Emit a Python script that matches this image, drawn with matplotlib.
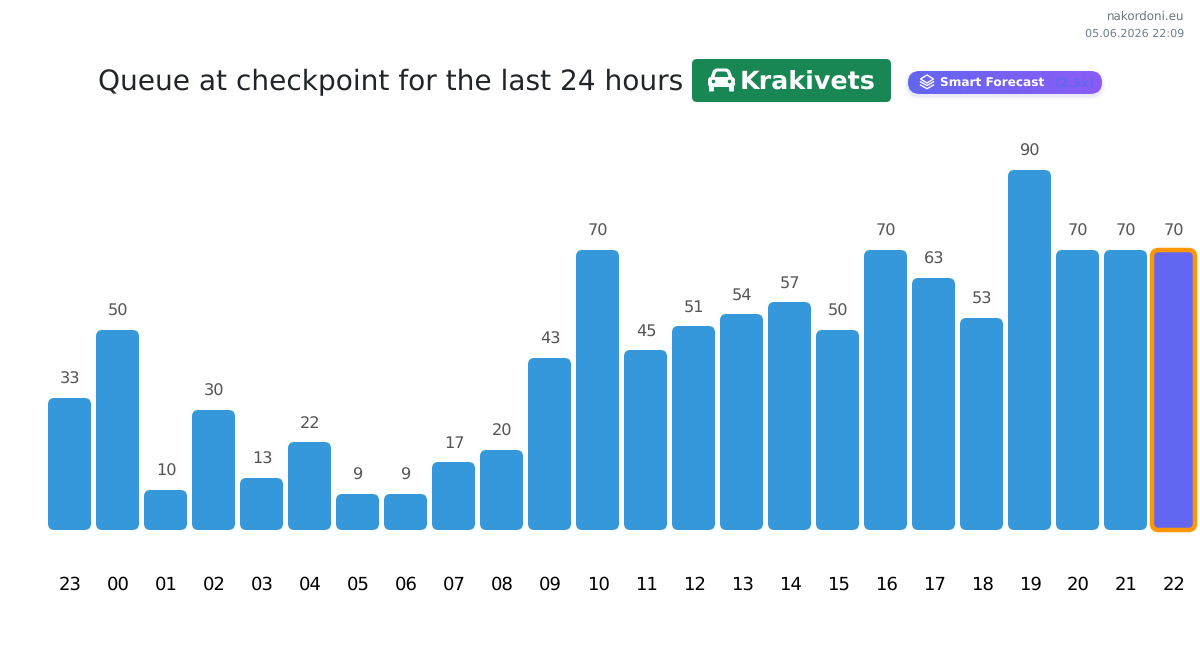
"""Hourly checkpoint queue: rounded bars with a forecast bar and a header strip."""
import numpy as np
import matplotlib
matplotlib.use("Agg")
import matplotlib.pyplot as plt
from matplotlib.patches import FancyBboxPatch, Polygon, Circle
from matplotlib.lines import Line2D

plt.rcParams["text.hinting"] = "no_hinting"

hours = ["23", "00", "01", "02", "03", "04", "05", "06", "07", "08", "09", "10",
         "11", "12", "13", "14", "15", "16", "17", "18", "19", "20", "21", "22"]
queue = [33, 50, 10, 30, 13, 22, 9, 9, 17, 20, 43, 70,
         45, 51, 54, 57, 50, 70, 63, 53, 90, 70, 70, 70]
forecast_hour = "22"

BLUE = "#3498db"; PURPLE = "#6366f1"; ORANGE = "#ff9800"; GREEN = "#198754"
W, H = 1200, 651
PX = 72 / 100  # points per pixel at dpi 100

fig = plt.figure(figsize=(W / 100, H / 100), dpi=100, facecolor="white")

# bars: one x unit is 48 px, one y unit is 4 px, baseline at y=530 px
ax = fig.add_axes([0, 0, 1, 1])
ax.set_xlim(-69.5 / 48, (W - 69.5) / 48)
ax.set_ylim((530 - H) / 4, 530 / 4)
ax.axis("off")

bar_w = 43 / 48
for i, (hour, val) in enumerate(zip(hours, queue)):
    is_fc = hour == forecast_hour and i == len(hours) - 1
    box = FancyBboxPatch((i - bar_w / 2, 0), bar_w, val,
                         boxstyle="round,pad=0,rounding_size=0.135", mutation_aspect=12,
                         fc=PURPLE if is_fc else BLUE,
                         ec=ORANGE if is_fc else "none", lw=4.5 * PX if is_fc else 0,
                         zorder=3 if is_fc else 2)
    ax.add_patch(box)
    ax.annotate(str(val), (i, val), xytext=(0.7 * PX, 18.2 * PX), textcoords="offset points",
                ha="center", va="center", fontsize=11.6, color="#555555")
    ax.annotate(hour, (i, 0), xytext=(0.7 * PX, -55 * PX), textcoords="offset points",
                ha="center", va="center", fontsize=13, color="black")

# header strip in pixel coordinates
hd = fig.add_axes([0, 0, 1, 1], facecolor="none")
hd.set_xlim(0, W); hd.set_ylim(H, 0); hd.axis("off")

hd.text(98, 82, "Queue at checkpoint for the last 24 hours", fontsize=20.2,
        color="#212529", ha="left", va="center")

hd.add_patch(FancyBboxPatch((692, 59), 199, 43, boxstyle="round,pad=0,rounding_size=5",
                            fc=GREEN, ec="none"))
hd.text(740, 81.5, "Krakivets", fontsize=18.3, weight="bold", color="white", ha="left", va="center")

# car glyph
hd.add_patch(FancyBboxPatch((708, 77), 27, 10, boxstyle="round,pad=0,rounding_size=3", fc="white", ec="none"))
hd.add_patch(Polygon([(710, 79), (713, 70.5), (716, 68.5), (727, 68.5), (730, 70.5), (733, 79)], fc="white", ec="none"))
hd.add_patch(Polygon([(714.5, 77), (716, 72.5), (717.5, 71.5), (725.5, 71.5), (727, 72.5), (728.5, 77)],
                     fc=GREEN, ec="none"))
hd.add_patch(Circle((713.5, 81.5), 1.8, fc=GREEN, ec="none"))
hd.add_patch(Circle((729.5, 81.5), 1.8, fc=GREEN, ec="none"))
hd.add_patch(FancyBboxPatch((709, 86), 5, 5.5, boxstyle="round,pad=0,rounding_size=1", fc="white", ec="none"))
hd.add_patch(FancyBboxPatch((729, 86), 5, 5.5, boxstyle="round,pad=0,rounding_size=1", fc="white", ec="none"))

# soft shadow under the forecast pill
for grow, alpha in zip([4, 3, 2, 1], [0.015, 0.025, 0.035, 0.05]):
    hd.add_patch(FancyBboxPatch((908 - grow, 73 - grow), 194 + 2 * grow, 23 + 2 * grow,
                                boxstyle=f"round,pad=0,rounding_size={11.5 + grow}",
                                fc=PURPLE, ec="none", alpha=alpha))
pill = FancyBboxPatch((908, 71), 194, 23, boxstyle="round,pad=0,rounding_size=11.5", fc="none", ec="none")
hd.add_patch(pill)
grad = np.linspace(0, 1, 256).reshape(1, -1)
cmap = matplotlib.colors.LinearSegmentedColormap.from_list("pill", [PURPLE, "#8b5cf6"])
img = hd.imshow(grad, extent=(908, 1102, 94, 71), cmap=cmap, aspect="auto", zorder=1.5)
img.set_clip_path(pill)
hd.set_xlim(0, W); hd.set_ylim(H, 0)

# layers glyph
hd.add_patch(Polygon([(927, 75), (933.5, 79), (927, 83), (920.5, 79)], fc="none", ec="white", lw=1, zorder=3))
for dy in (0, 3.2):
    hd.add_line(Line2D([920.5, 927, 933.5], [81.8 + dy, 85.5 + dy, 81.8 + dy], color="white", lw=1, zorder=3))

hd.text(940, 83.5, "Smart Forecast", fontsize=8.7, weight="bold", color="white", ha="left", va="center", zorder=3)
hd.text(1055, 83.5, "(2.3x)", fontsize=8.7, weight="bold", color=PURPLE, ha="left", va="center", zorder=3)

hd.text(1184, 17, "nakordoni.eu", fontsize=8.6, color="#6c757d", ha="right", va="center")
hd.text(1184, 33.5, "05.06.2026 22:09", fontsize=8, color="#708090", ha="right", va="center")

fig.savefig("out.png", dpi=100, facecolor="white")
